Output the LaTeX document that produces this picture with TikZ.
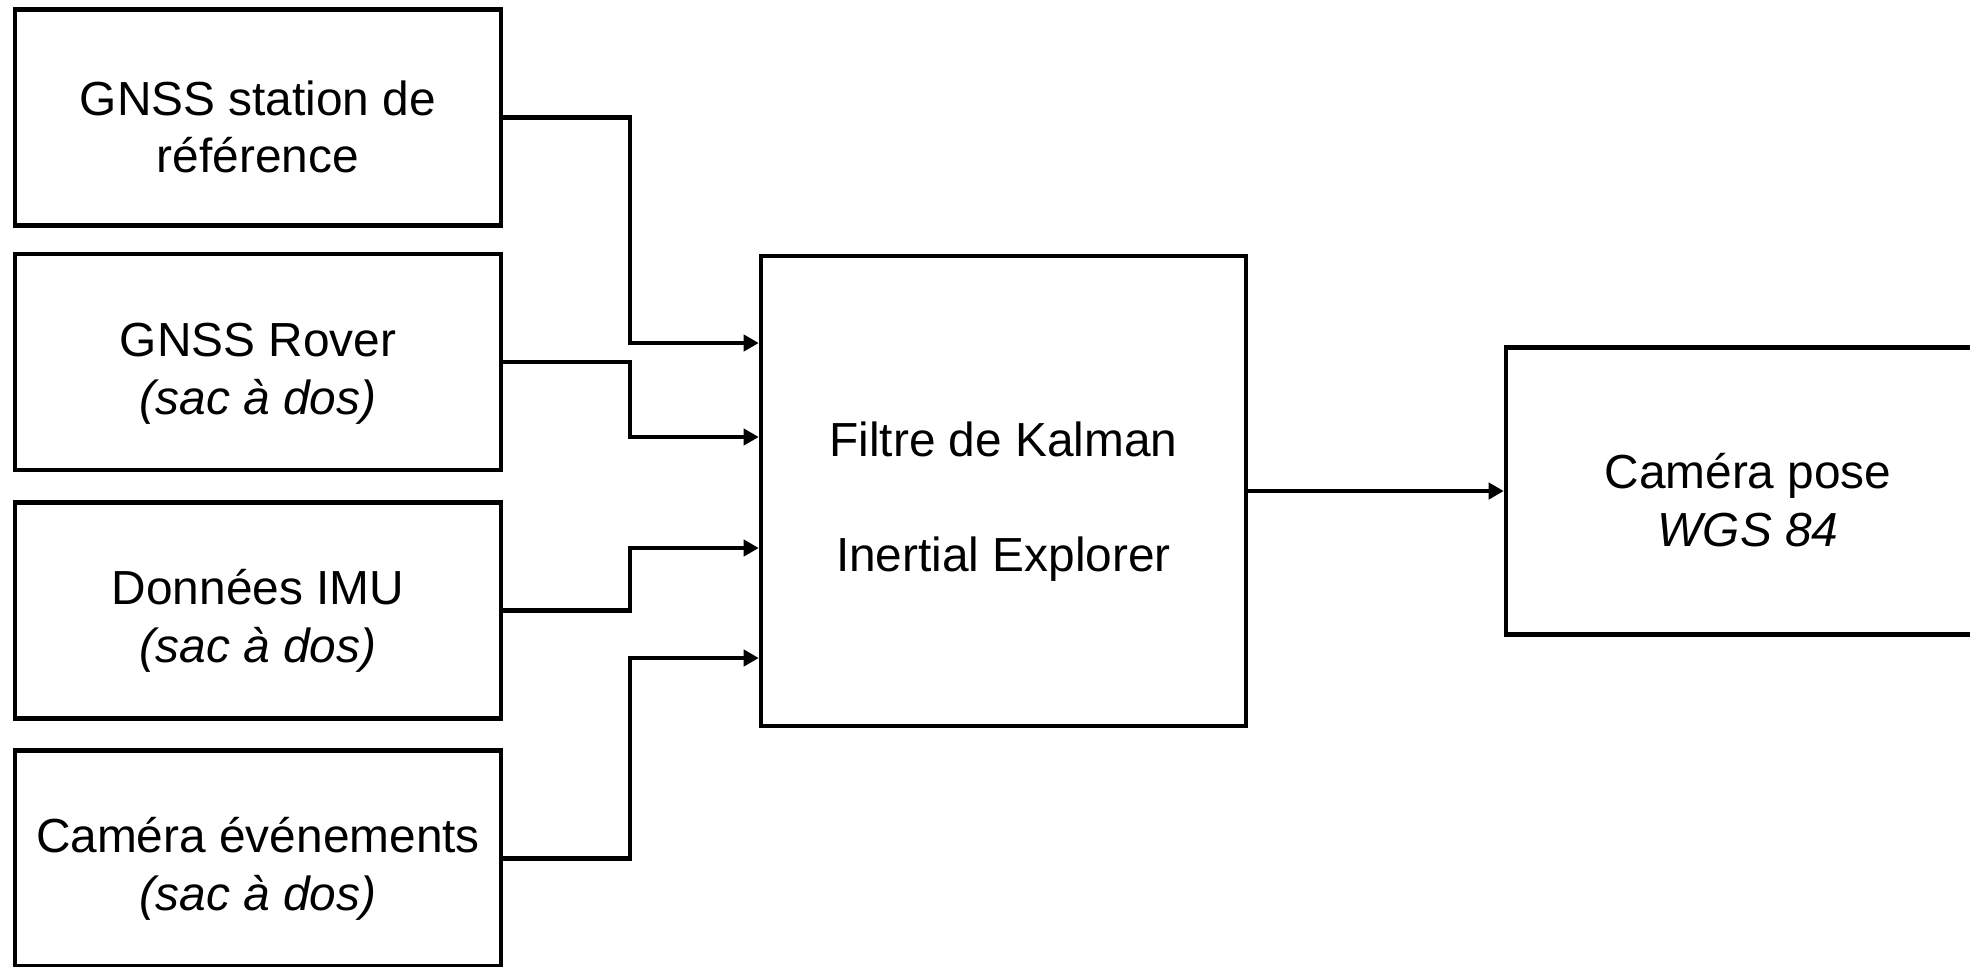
\documentclass[tikz,border=0pt]{standalone}
\usepackage{fontspec}
\setmainfont{Liberation Sans}
\usepackage{tikz}
\usepackage{xcolor}
\usetikzlibrary{arrows.meta,positioning,calc}
\definecolor{DiagBlack}{HTML}{000000}
\definecolor{DiagWhite}{HTML}{ffffff}
\newcommand{\bs}{\rule{0pt}{16pt}}
\newcommand{\es}{\rule[-1pt]{0pt}{1pt}}
\tikzset{
    % Base node style
    basenode/.style={
        draw=DiagBlack,
        fill=DiagWhite,
        line width=1.2pt,
        align=center,
        inner sep=0pt,
        font=\fontsize{13.6}{16.4}\selectfont
    },
    % Input sources (left column)
    sourcenode/.style={
        basenode,
        minimum width=4.86cm,
        minimum height=2.16cm
    },
    % Kalman filter box
    filternode/.style={
        basenode,
        minimum width=4.85cm,
        minimum height=4.70cm
    },
    % Result box
    resultnode/.style={
        basenode,
        minimum width=4.84cm,
        minimum height=2.87cm
    },
    % Arrow style (straight lines only)
    myarrow/.style={
        -{Triangle[length=4.3pt,width=4.6pt]},
        line width=1.2pt,
        draw=DiagBlack
    }
}
\begin{document}
\begin{tikzpicture}[x=0.01cm, y=-0.01cm]
        \useasboundingbox (0,0) rectangle (1970,966);
        \clip (0,0) rectangle (1970,966);

        % Source nodes
        \node[sourcenode] (gnssref) at (258,117.5) {\bs GNSS station de\\référence\es};
        \node[sourcenode] (gnssrover) at (258,362) {\bs GNSS Rover\\\textit{(sac à dos)}\es};
        \node[sourcenode] (imu) at (258,610.5) {\bs Données IMU\\\textit{(sac à dos)}\es};
        \node[sourcenode] (camevt) at (258,858.5) {\bs Caméra événements\\\textit{(sac à dos)}\es};

        % Processing and result
        \node[filternode] (kalman) at (1003.5,491) {\bs Filtre de Kalman\\[16.4pt]Inertial Explorer\es};
        \node[resultnode] (campose) at (1748,491) {\bs Caméra pose\\\textit{WGS 84}\es};

        % Entry points on the filter and the bend column
        \coordinate (k1) at (kalman.west |- 0,343);
        \coordinate (k2) at (kalman.west |- 0,437);
        \coordinate (k3) at (kalman.west |- 0,548);
        \coordinate (k4) at (kalman.west |- 0,658);
        \coordinate (bus) at (630,0);

        % Arrows into the filter
        \draw[myarrow] (gnssref.east) -| (bus |- k1) -- (k1);
        \draw[myarrow] (gnssrover.east) -| (bus |- k2) -- (k2);
        \draw[myarrow] (imu.east) -| (bus |- k3) -- (k3);
        \draw[myarrow] (camevt.east) -| (bus |- k4) -- (k4);

        % Output
        \draw[myarrow] (kalman.east) -- (campose.west);
    \end{tikzpicture}
\end{document}
